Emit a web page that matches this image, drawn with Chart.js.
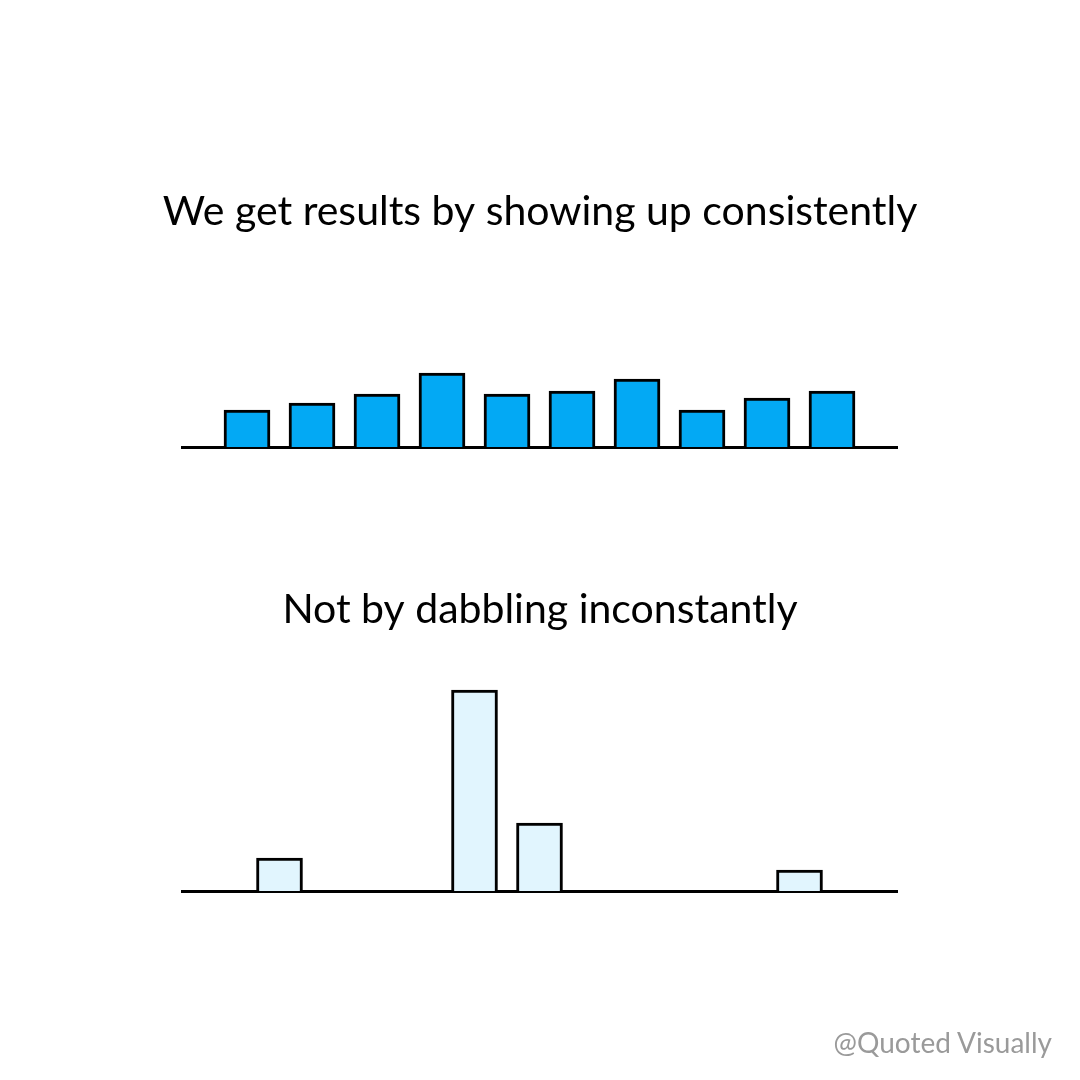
<!DOCTYPE html>
<html>
<head>
<meta charset="utf-8">
<script src="https://cdn.jsdelivr.net/npm/chart.js@4/dist/chart.umd.min.js"></script>
<style>
  html, body { margin: 0; padding: 0; background: #ffffff; }
  #page { position: relative; width: 1080px; height: 1080px; overflow: hidden; }
  .box { position: absolute; left: 0; width: 1080px; height: 540px; }
  #credit { position: absolute; right: 28px; top: 1025px; font-family: 'Lato', sans-serif; font-size: 28px; color: #9a9a9a; }
</style>
</head>
<body>
<div id="page">
  <div class="box" style="top:0"><canvas id="steady" width="1080" height="540"></canvas></div>
  <div class="box" style="top:540px"><canvas id="dabble" width="1080" height="540"></canvas></div>
  <div id="credit">@Quoted Visually</div>
</div>
<script>
// datos del grafico de arriba (constante)
const steadyLabels = ['', 'S1', 'S2', 'S3', 'S4', 'S5', 'S6', 'S7', 'S8', 'S9', 'S10', ''];
const steadyValues = [null, 18.5, 22, 26.5, 37, 26.5, 28, 34, 18.5, 24.5, 28, null];

// datos del grafico de abajo (a ratos)
const dabbleLabels = ['D1', 'D2', 'D3', 'D4', 'D5', 'D6', 'D7', 'D8', 'D9', 'D10', 'D11'];
const dabbleValues = [0, 16.5, 0, 0, 100.5, 34, 0, 0, 0, 10.5, 0];

// ejes invisibles que solo reservan el margen (asi el titulo no se encoge)
function hiddenAxis(position, width, extra) {
    return Object.assign({
        position: position,
        display: true,
        grid: { display: false, drawTicks: false },
        ticks: { display: false },
        border: { display: false },
        afterFit: function (scale) { scale.width = width; }
    }, extra);
}

function makeOptions(title, fontSize, yMax, offset, pad, titlePad) {
    return {
        responsive: false,
        animation: false,
        layout: { padding: pad },
        plugins: {
            legend: { display: false },
            tooltip: { enabled: false },
            title: {
                display: true,
                text: title,
                color: '#000000',
                font: { family: "'Lato', 'Noto Sans', sans-serif", size: fontSize, weight: 'normal' },
                padding: titlePad
            }
        },
        scales: {
            x: {
                offset: offset,
                z: 1,
                grid: { display: false, drawTicks: false },
                ticks: { display: false },
                border: { display: true, color: '#000000', width: 3 }
            },
            y: hiddenAxis('left', 182, { min: 0, max: yMax }),
            yRight: hiddenAxis('right', 183, {})
        }
    };
}

new Chart(document.getElementById('steady'), {
    type: 'bar',
    data: {
        labels: steadyLabels,
        datasets: [{
            data: steadyValues,
            backgroundColor: '#03A9F4',
            borderColor: '#000000',
            borderWidth: 3,
            borderSkipped: 'start',
            barThickness: 46
        }]
    },
    options: makeOptions('We get results by showing up consistently', 41, 60, false,
        { left: 0, right: 0, top: 187, bottom: 93 }, { top: 0, bottom: 91 })
});

new Chart(document.getElementById('dabble'), {
    type: 'bar',
    data: {
        labels: dabbleLabels,
        datasets: [{
            data: dabbleValues,
            backgroundColor: '#E1F5FE',
            borderColor: '#000000',
            borderWidth: 3,
            borderSkipped: 'start',
            barThickness: 46
        }]
    },
    options: makeOptions('Not by dabbling inconstantly', 41, 110, true,
        { left: 0, right: 0, top: 45, bottom: 189 }, { top: 0, bottom: 37 })
});
</script>
</body>
</html>
